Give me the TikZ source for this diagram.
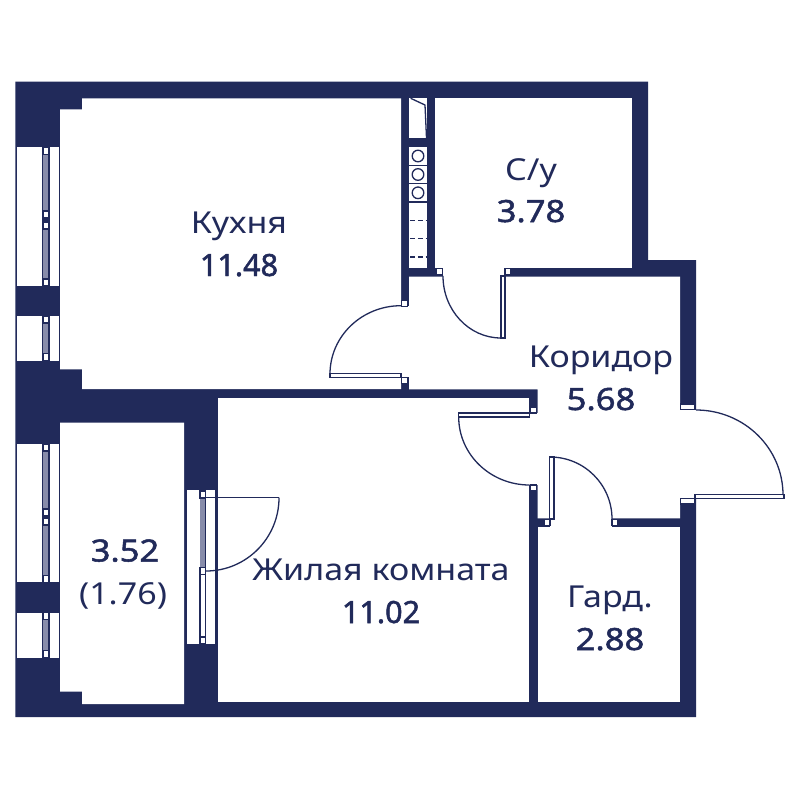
\documentclass[tikz,border=0pt]{standalone}
\usepackage{fontspec}
\setmainfont{Noto Sans}
\newfontfamily\namefont[FakeStretch=1.125]{Noto Sans}
\newfontfamily\areafont[FakeBold=1.6]{Noto Sans}
\newfontfamily\widefont[FakeBold=1.6, FakeStretch=1.13]{Noto Sans}
\usetikzlibrary{calc}
\definecolor{wallblue}{RGB}{33,42,90}
\definecolor{glassgrey}{RGB}{136,140,170}
\tikzset{
    wall/.style={fill=wallblue},
    room/.style={fill=white},
    thinline/.style={draw=wallblue, line width=0.13mm},
    leaf/.style={thinline, fill=white},
    jamb/.style={thinline, fill=white, line width=0.11mm},
    roomname/.style={text=wallblue, anchor=base, font=\fontsize{8.6}{10}\selectfont\namefont, inner sep=0pt},
    roomarea/.style={text=wallblue, anchor=base, font=\fontsize{8.7}{10}\selectfont\areafont, inner sep=0pt},
    widearea/.style={roomarea, font=\fontsize{8.7}{10}\selectfont\widefont}
}
% quarter circle door swing: start, corner, end
\newcommand{\doorarc}[3]{
    \draw[thinline] (#1) .. controls ($(#1)!0.5523!(#2)$) and ($(#3)!0.5523!(#2)$) .. (#3);
}
% glazing column: x left, y top, y bottom
\newcommand{\glazing}[3]{
    \fill[glassgrey] (#1, #2) rectangle (#1 + 5, #3);
    \draw[wallblue, line width=0.17mm] (#1 + 5.5, #2) -- (#1 + 5.5, #3);
}
\newcommand{\sash}[2]{
    \draw[jamb] (#1, #2) rectangle (#1 + 5.5, #2 + 7);
}
\begin{document}
\begin{tikzpicture}[x=0.01cm, y=-0.01cm]
    \useasboundingbox (0, 0) rectangle (800, 800);

    % Outer walls
    \fill[wall] (15.3, 81.7) -- (648, 81.7) -- (648, 260) -- (696, 260)
        -- (696, 717) -- (184, 717) -- (15.3, 717) -- cycle;

    % Rooms
    \fill[room] (82, 98.3) -- (401, 98.3) -- (401, 389) -- (82, 389) -- (82, 369.3)
        -- (60, 369.3) -- (60, 109.3) -- (82, 109.3) -- cycle;
    \fill[room] (435, 98.3) rectangle (632.3, 267.5);
    \fill[room] (409, 276.7) -- (680, 276.7) -- (680, 518.3) -- (537.7, 518.3)
        -- (537.7, 389.3) -- (409, 389.3) -- cycle;
    \fill[room] (218, 398) rectangle (529, 701.7);
    \fill[room] (60, 422.7) -- (184, 422.7) -- (184, 704) -- (82, 704) -- (82, 691.7)
        -- (60, 691.7) -- cycle;
    \fill[room] (537.7, 526.7) rectangle (680, 702);

    % Door openings
    \fill[room] (400.5, 306) rectangle (410, 377);
    \fill[room] (443, 267) rectangle (504, 277);
    \fill[room] (528.5, 413) rectangle (538.5, 485);
    \fill[room] (550, 517.5) rectangle (612, 527.5);
    \fill[room] (679.5, 410) rectangle (697, 498);

    % Jambs
    \foreach \x/\y in {401.7/300.7, 401.7/377.5, 436.7/268.5, 505/268.5, 530.5/407,
        530.5/485, 544/519.5, 612/519.5} {
        \draw[jamb] (\x, \y) rectangle (\x + 6, \y + 6);
    }
    \draw[jamb] (680.5, 404) rectangle (695, 409.7);
    \draw[jamb] (680.5, 498.3) rectangle (695, 504);

    % Shaft, stove and worktop
    \fill[room] (409.3, 98.3) rectangle (426.7, 138.3);
    \draw[thinline] (410.7, 98.3) -- (425, 105) -- (426.5, 138);
    \fill[room] (409.3, 147.3) rectangle (426.7, 267.7);
    \foreach \y in {165.3, 183.7, 202} {
        \draw[thinline] (409.3, \y) -- (426.7, \y);
    }
    \foreach \y in {156, 174.5, 192.8} {
        \draw[thinline] (418, \y) circle[radius=5.8];
    }
    \foreach \y in {220.3, 238.7, 257} {
        \draw[thinline, dash pattern=on 0.5mm off 0.28mm] (410, \y) -- (426.7, \y);
    }

    % Windows on the left
    \foreach \a/\b in {147.3/286, 316/360.7, 444/582.3, 612.7/657.7} {
        \fill[room] (16.7, \a) rectangle (43, \b);
        \fill[room] (49, \a) rectangle (59, \b);
        \draw[thinline] (43, \a) -- (43, \b);
        \draw[thinline] (49, \a) -- (49, \b);
    }
    \glazing{43}{153}{213}
    \glazing{43}{227}{282}
    \sash{43}{147.3}
    \sash{43}{211}
    \sash{43}{222}
    \sash{43}{279}
    \glazing{43}{322}{356}
    \sash{43}{316}
    \sash{43}{353.7}
    \glazing{43}{450}{510}
    \glazing{43}{522}{578}
    \sash{43}{444}
    \sash{43}{509}
    \sash{43}{518}
    \sash{43}{575.3}
    \glazing{43}{618}{653}
    \sash{43}{612.7}
    \sash{43}{650.7}

    % Balcony door and window
    \fill[room] (186, 489.3) rectangle (216, 645);
    \draw[thinline] (186, 489.3) rectangle (216, 645);
    \glazing{200}{497}{568}
    \draw[leaf] (200, 572) rectangle (205.5, 640);
    \sash{200}{491}
    \sash{200}{567.5}
    \sash{200}{637}

    % Door leaves
    \draw[leaf] (330, 373.5) rectangle (401, 377.7);
    \draw[leaf] (501, 276) rectangle (505, 338);
    \draw[leaf] (458.7, 413) rectangle (529.6, 417);
    \draw[leaf] (549.5, 457) rectangle (554, 519);
    \draw[leaf] (695, 494.3) rectangle (784, 498.3);
    \draw[thinline] (206, 497.7) -- (279, 497.7);

    % Door swings
    \doorarc{401, 305.7}{330, 305.7}{330, 374}
    \doorarc{443, 276}{443, 338}{501, 338}
    \doorarc{458.7, 417}{458.7, 485}{529.6, 485}
    \doorarc{550, 457}{612, 457}{612, 519}
    \doorarc{696, 410}{783, 410}{783, 495}
    \doorarc{279, 497.7}{279, 571}{206, 571}

    % Labels
    \node[roomname] (kitchen) at (239, 233) {Кухня};
    \node[roomarea] (kitchenarea) at (239, 276) {11.48};
    \node[roomname] (bath) at (531, 180) {С/у};
    \node[widearea] (batharea) at (531, 222) {3.78};
    \node[roomname] (hall) at (601, 367) {Коридор};
    \node[widearea] (hallarea) at (601, 410) {5.68};
    \node[roomname] (living) at (381, 580) {Жилая комната};
    \node[roomarea] (livingarea) at (381, 623) {11.02};
    \node[roomname] (ward) at (610, 607) {Гард.};
    \node[widearea] (wardarea) at (610, 650) {2.88};
    \node[widearea] (balcony) at (125, 561.5) {3.52};
    \node[roomname] (balconyhalf) at (123, 604) {(1.76)};
\end{tikzpicture}
\end{document}
